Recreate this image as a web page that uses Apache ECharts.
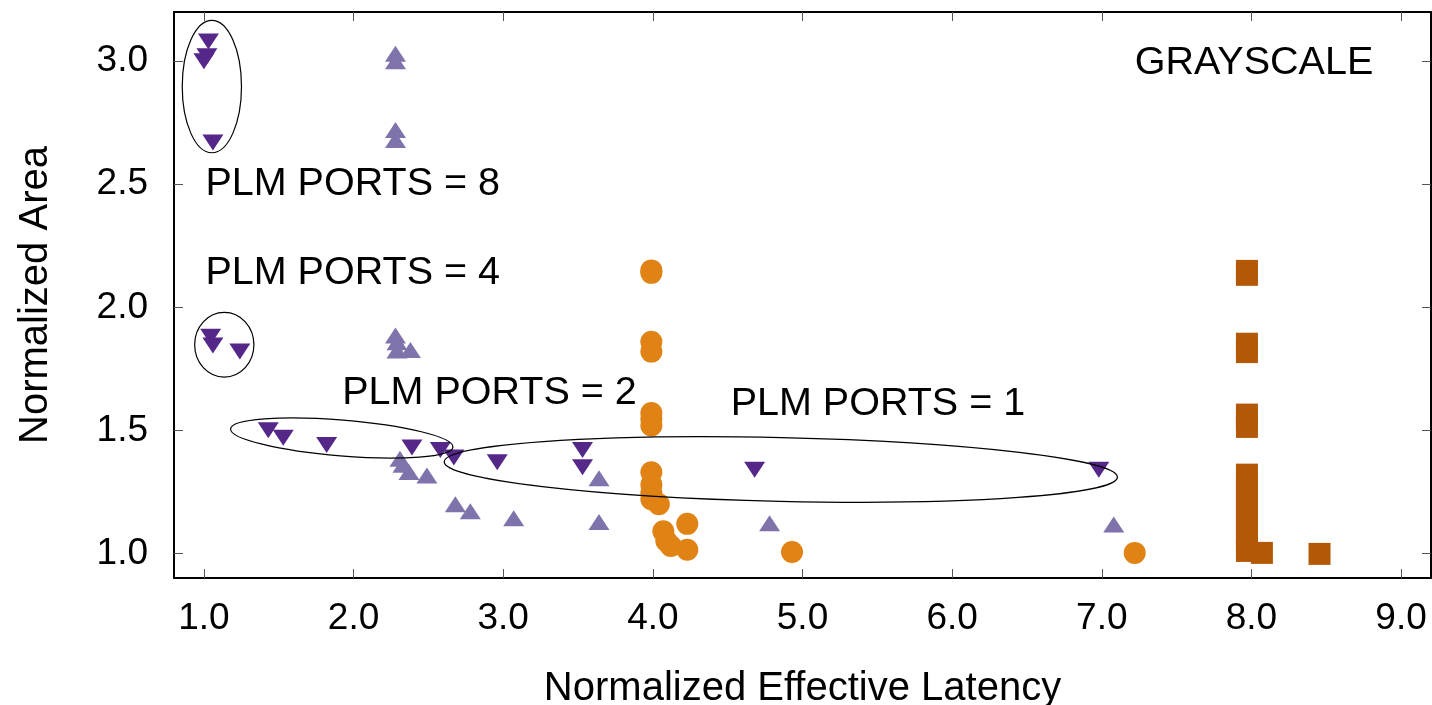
<!DOCTYPE html>
<html>
<head>
<meta charset="utf-8">
<script src="https://cdn.jsdelivr.net/npm/echarts@6/dist/echarts.min.js"></script>
<style>
  html, body { margin: 0; padding: 0; background: #fff; }
  #chart { width: 1432px; height: 705px; }
</style>
</head>
<body>
<div id="chart"></div>
<script>
// PLM configurations, latency vs area
const xTicks = [1, 2, 3, 4, 5, 6, 7, 8, 9];
const yTicks = [1.0, 1.5, 2.0, 2.5, 3.0];

// dark purple, down triangles
const downX = [1.03, 1.02, 1.00, 1.06, 1.045, 1.06, 1.24, 1.43, 1.53, 1.82, 2.39, 2.58, 2.67, 2.96, 3.53, 3.53, 4.68, 6.98];
const downY = [3.08, 3.02, 3.00, 2.67, 1.88, 1.845, 1.82, 1.50, 1.47, 1.44, 1.43, 1.42, 1.39, 1.37, 1.42, 1.35, 1.34, 1.34];

// light purple, up triangles
const upX = [2.28, 2.28, 2.28, 2.28, 2.28, 2.29, 2.29, 2.38, 2.31, 2.33, 2.37, 2.49, 2.68, 2.78, 3.07, 3.64, 3.64, 4.78, 7.08];
const upY = [3.03, 3.00, 2.72, 2.68, 1.885, 1.858, 1.824, 1.827, 1.385, 1.36, 1.331, 1.317, 1.20, 1.171, 1.143, 1.305, 1.128, 1.122, 1.117];

// orange, circles
const circX = [3.99, 3.99, 3.99, 3.99, 3.99, 3.99, 3.99, 3.99, 3.99, 3.99, 3.99, 4.04, 4.23, 4.07, 4.09, 4.12, 4.23, 4.93, 7.22];
const circY = [2.15, 2.14, 1.86, 1.82, 1.57, 1.545, 1.52, 1.33, 1.28, 1.245, 1.22, 1.20, 1.12, 1.09, 1.05, 1.03, 1.015, 1.006, 1.002];

// dark orange, squares
const sqX = [7.97, 7.97, 7.97, 7.97, 7.97, 7.97, 7.97, 7.97, 7.97, 7.97, 7.97, 7.97, 7.97, 7.97, 7.97, 7.97, 8.07, 8.455];
const sqY = [2.148, 2.132, 1.852, 1.818, 1.564, 1.54, 1.514, 1.32, 1.28, 1.24, 1.20, 1.16, 1.12, 1.08, 1.04, 1.01, 1.002, 0.998];

// ellipses: centre, full width (x units), full height (y units), angle (deg, ccw)
const ellCx = [1.053, 1.136, 1.921, 4.855];
const ellCy = [2.897, 1.848, 1.469, 1.341];
const ellW = [0.396, 0.396, 1.491, 4.50];
const ellH = [0.538, 0.263, 0.146, 0.259];
const ellAngle = [0, 0, -4.7, -1.3];

// text labels, left edge / vertical middle
const labelText = ['PLM PORTS = 8', 'PLM PORTS = 4', 'PLM PORTS = 2', 'PLM PORTS = 1', 'GRAYSCALE'];
const labelX = [1.01, 1.01, 1.924, 4.52, 7.22];
const labelY = [2.50, 2.14, 1.65, 1.607, 2.993];

const FONT = '"Liberation Sans", Arial, Helvetica, sans-serif';

function zip(xs, ys) {
    return xs.map(function (x, i) { return [x, ys[i]]; });
}

let chartDom = document.getElementById('chart');
let myChart = echarts.init(chartDom, null, { renderer: 'canvas' });

let tickStyle = { show: true, inside: true, length: 9, lineStyle: { color: '#555', width: 1 } };

let option = {
    animation: false,
    backgroundColor: '#fff',
    grid: { left: 174, right: 1, top: 12, bottom: 127, containLabel: false, outerBoundsMode: 'none' },
    xAxis: [
        {
            type: 'value', min: 0.8, max: 9.2,
            name: 'Normalized Effective Latency', nameLocation: 'middle', nameGap: 91,
            nameTextStyle: { fontSize: 40, color: '#000', fontFamily: FONT },
            axisLine: { show: true, lineStyle: { color: '#000', width: 2 } },
            axisTick: Object.assign({ customValues: xTicks }, tickStyle),
            axisLabel: {
                customValues: xTicks, margin: 22, fontSize: 37, color: '#000', fontFamily: FONT,
                formatter: function (v) { return v.toFixed(1); }
            },
            splitLine: { show: false }
        },
        {
            type: 'value', min: 0.8, max: 9.2, position: 'top',
            axisLine: { show: true, lineStyle: { color: '#000', width: 2 } },
            axisTick: Object.assign({ customValues: xTicks }, tickStyle),
            axisLabel: { show: false },
            splitLine: { show: false }
        }
    ],
    yAxis: [
        {
            type: 'value', min: 0.9, max: 3.2,
            name: 'Normalized Area', nameLocation: 'middle', nameGap: 118,
            nameTextStyle: { fontSize: 40, color: '#000', fontFamily: FONT },
            axisLine: { show: true, lineStyle: { color: '#000', width: 2 } },
            axisTick: Object.assign({ customValues: yTicks }, tickStyle),
            axisLabel: {
                customValues: yTicks, margin: 26, fontSize: 37, color: '#000', fontFamily: FONT,
                formatter: function (v) { return v.toFixed(1); }
            },
            splitLine: { show: false }
        },
        {
            type: 'value', min: 0.9, max: 3.2, position: 'right',
            axisLine: { show: true, lineStyle: { color: '#000', width: 2 } },
            axisTick: Object.assign({ customValues: yTicks }, tickStyle),
            axisLabel: { show: false },
            splitLine: { show: false }
        }
    ],
    series: [
        {
            type: 'scatter', data: zip(downX, downY),
            symbol: 'triangle', symbolRotate: 180, symbolSize: [21, 16],
            itemStyle: { color: '#542788', opacity: 1 }, z: 2
        },
        {
            type: 'scatter', data: zip(upX, upY),
            symbol: 'triangle', symbolSize: [21, 16],
            itemStyle: { color: '#8073ac', opacity: 1 }, z: 3
        },
        {
            type: 'scatter', data: zip(circX, circY),
            symbol: 'circle', symbolSize: 22,
            itemStyle: { color: '#e08214', opacity: 1 }, z: 4
        },
        {
            type: 'scatter', data: zip(sqX, sqY),
            symbol: 'rect', symbolSize: 22,
            itemStyle: { color: '#b35806', opacity: 1 }, z: 5
        },
        {
            type: 'custom', z: 10, silent: true,
            data: ellCx.map(function (cx, i) { return [cx, ellCy[i], ellW[i], ellH[i], ellAngle[i]]; }),
            encode: { x: 0, y: 1 },
            renderItem: function (params, api) {
                let c = api.coord([api.value(0), api.value(1)]);
                let s = api.size([api.value(2), api.value(3)]);
                return {
                    type: 'ellipse',
                    x: c[0], y: c[1],
                    rotation: api.value(4) * Math.PI / 180,
                    shape: { cx: 0, cy: 0, rx: s[0] / 2, ry: s[1] / 2 },
                    style: { fill: 'transparent', stroke: '#000', lineWidth: 1.2 }
                };
            }
        },
        {
            type: 'custom', z: 11, silent: true,
            data: zip(labelX, labelY),
            encode: { x: 0, y: 1 },
            renderItem: function (params, api) {
                let c = api.coord([api.value(0), api.value(1)]);
                return {
                    type: 'text',
                    x: c[0], y: c[1],
                    style: {
                        text: labelText[params.dataIndex],
                        fontSize: 39.5, fontFamily: FONT, fill: '#000',
                        align: 'left', verticalAlign: 'middle'
                    }
                };
            }
        }
    ]
};

option && myChart.setOption(option);
</script>
</body>
</html>
